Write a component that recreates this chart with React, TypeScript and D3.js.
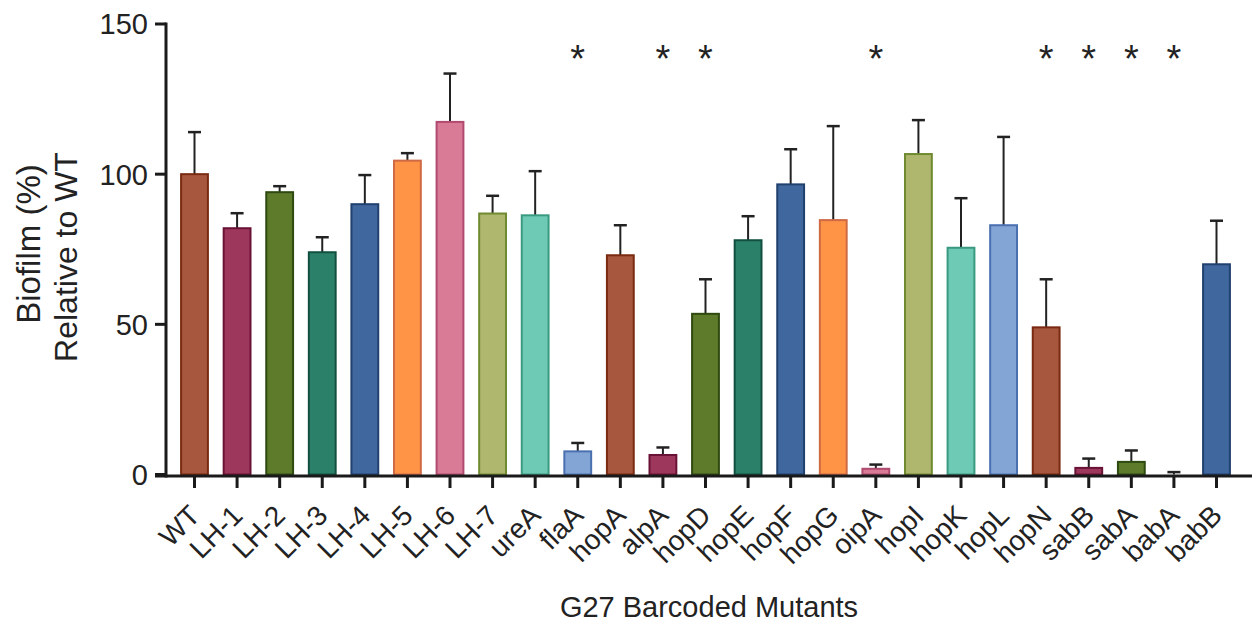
import React from "react";
import * as d3 from "d3";

const categories = ["WT","LH-1","LH-2","LH-3","LH-4","LH-5","LH-6","LH-7","ureA","flaA","hopA","alpA","hopD","hopE","hopF","hopG","oipA","hopI","hopK","hopL","hopN","sabB","sabA","babA","babB"];
const means = [100,82,94,74,90,104.5,117.4,86.9,86.3,7.7,73,6.5,53.5,78,96.6,84.7,1.9,106.7,75.5,83,49,2.2,4.2,0,70];
const errUpper = [114,87,96,79,99.7,107,133.5,92.8,101,10.5,83,9,65,86,108.3,116,3.3,118,92,112.4,65,5.3,8,0.8,84.5];
const significant = ["flaA","alpA","hopD","oipA","hopN","sabB","sabA","babA"];
const yTicks = [0,50,100,150];
const fills = ["#A6573E","#9E375C","#5E7A2B","#2B8069","#40679E","#FF9346","#D97B97","#AFB66D","#6ECAB4","#83A5D5"];
const strokes = ["#7A2A10","#6A1235","#2E4A10","#115040","#20406E","#CF6A45","#B04A70","#6F8A30","#3A9A80","#4A70B0"];

export default function App() {
  const W = 1252, H = 623;
  const x = d3.scalePoint<string>().domain(categories).range([194.5, 1216.5]);
  const y = d3.scaleLinear().domain([0, 150]).range([474.5, 24]);
  const bw = x.step() * 0.63;
  const font = "'Liberation Sans', Arial, sans-serif";
  const axisColor = "#1a1a1a";
  return (
    <svg width={W} height={H} style={{ position: "absolute", left: 0, top: 0, background: "#fff" }} fontFamily={font}>
      {/* bars */}
      {categories.map((c, i) => {
        const cx = x(c)!;
        const v = means[i];
        const col = i % 10;
        return (
          <g key={c}>
            <line x1={cx} x2={cx} y1={y(v)} y2={y(errUpper[i])} stroke="#222" strokeWidth={2} />
            <line x1={cx - 6.5} x2={cx + 6.5} y1={y(errUpper[i])} y2={y(errUpper[i])} stroke="#222" strokeWidth={2.5} />
            {v > 0 && (
              <rect x={cx - bw / 2} y={y(v)} width={bw} height={y(0) - y(v)} fill={fills[col]} stroke={strokes[col]} strokeWidth={2} />
            )}
          </g>
        );
      })}
      {/* significance stars */}
      {significant.map((c) => (
        <text key={"s" + c} x={x(c)!} y={72} textAnchor="middle" fontSize={38} fill="#222">*</text>
      ))}
      {/* y axis */}
      <line x1={166} x2={166} y1={22.5} y2={477.5} stroke={axisColor} strokeWidth={3} />
      {yTicks.map((t) => (
        <g key={"yt" + t}>
          <line x1={155} x2={166} y1={y(t)} y2={y(t)} stroke={axisColor} strokeWidth={3} />
          <text x={148} y={y(t)} dy="0.36em" textAnchor="end" fontSize={29} fill="#222">{t}</text>
        </g>
      ))}
      {/* x axis */}
      <line x1={155} x2={1252} y1={476} y2={476} stroke={axisColor} strokeWidth={3} />
      {categories.map((c) => (
        <g key={"xt" + c}>
          <line x1={x(c)!} x2={x(c)!} y1={476} y2={488} stroke={axisColor} strokeWidth={3} />
          <text transform={`translate(${x(c)!},${510}) rotate(-45)`} textAnchor="end" dy="0.36em" fontSize={28} fill="#222">{c}</text>
        </g>
      ))}
      {/* axis titles */}
      <text transform="translate(40,244) rotate(-90)" textAnchor="middle" fontSize={33} fill="#222">Biofilm (%)</text>
      <text transform="translate(77,257) rotate(-90)" textAnchor="middle" fontSize={32} fill="#222">Relative to WT</text>
      <text x={709} y={617} textAnchor="middle" fontSize={29} fill="#222">G27 Barcoded Mutants</text>
    </svg>
  );
}
